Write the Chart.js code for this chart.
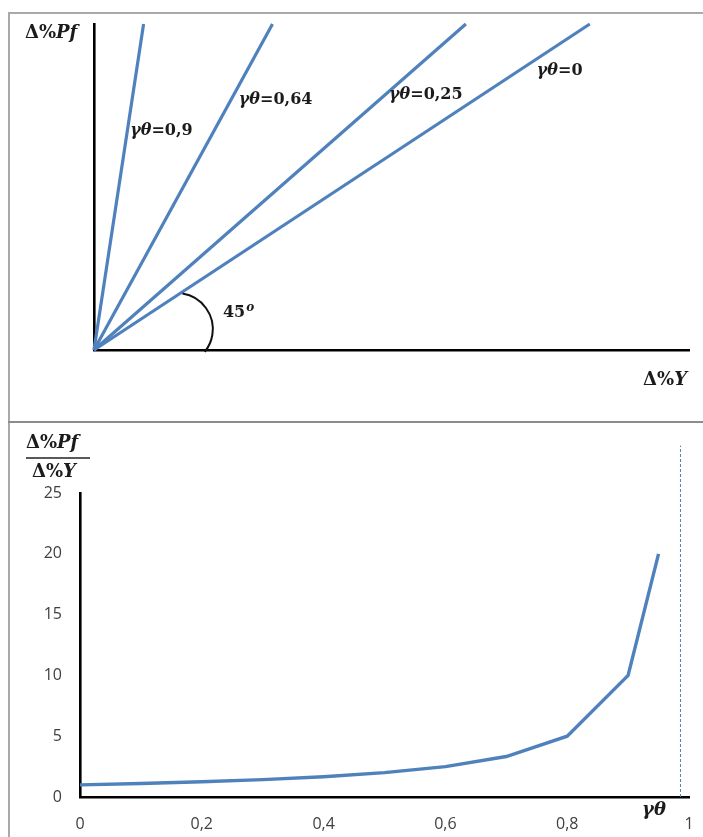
<!DOCTYPE html>
<html>
<head>
<meta charset="utf-8">
<script src="https://cdn.jsdelivr.net/npm/chart.js@4/dist/chart.umd.min.js"></script>
<style>
  html, body { margin: 0; padding: 0; background: #fff; }
  body { width: 703px; height: 837px; position: relative; overflow: hidden; }
  .panel { position: absolute; left: 0; width: 703px; }
  #top { top: 0; height: 422px; }
  #bottom { top: 422px; height: 415px; }
  .rule { position: absolute; background: #a9a9a9; }
</style>
</head>
<body>
<div class="panel" id="top"><canvas id="rays" width="703" height="422"></canvas></div>
<div class="panel" id="bottom"><canvas id="curve" width="703" height="415"></canvas></div>
<div class="rule" style="left:8px; top:12px; width:695px; height:2px;"></div>
<div class="rule" style="left:8px; top:12px; width:2px; height:825px;"></div>
<div class="rule" style="left:8px; top:421px; width:695px; height:2px; background:#8c8c8c;"></div>

<script>
// ---- Upper panel: rays Δ%Pf = Δ%Y / (1 - γθ) ----
const gammaTheta = [0, 0.25, 0.64, 0.9];
// Δ%Y reached by each ray when Δ%Pf hits the top of the axis (10)
const rayEndY = [10, 7.5, 3.6, 1.0];
const rayTopPf = 10;

// ---- Lower panel: multiplier against γθ ----
const gtValues = [0, 0.1, 0.2, 0.3, 0.4, 0.5, 0.6, 0.7, 0.8, 0.9, 0.95];
const multiplier = [1, 1.11, 1.25, 1.43, 1.67, 2, 2.5, 3.33, 5, 10, 20];
const yTickValues = [0, 5, 10, 15, 20, 25];
const xTickValues = [0, 0.2, 0.4, 0.6, 0.8, 1];
const asymptoteX = 0.986;

const BLUE = '#4f81bd';
const INK = '#1b1b1b';
const MATH = '"DejaVu Serif", "Liberation Serif", serif';

// decimal comma, keeping up to two decimals
const comma = v => String(Math.round(v * 100) / 100).replace('.', ',');

// draw a row of text pieces, each either upright or italic
function drawRuns(ctx, runs, x, y, size, align) {
  ctx.save();
  ctx.textBaseline = 'middle';
  ctx.textAlign = 'left';
  ctx.fillStyle = INK;
  const fonts = runs.map(r => (r[1] ? 'italic ' : '') + 'bold ' + size + 'px ' + MATH);
  const widths = runs.map((r, i) => { ctx.font = fonts[i]; return ctx.measureText(r[0]).width; });
  const total = widths.reduce((a, b) => a + b, 0);
  let cx = align === 'right' ? x - total : align === 'center' ? x - total / 2 : x;
  runs.forEach((r, i) => { ctx.font = fonts[i]; ctx.fillText(r[0], cx, y); cx += widths[i]; });
  ctx.restore();
  return total;
}

// label anchors (left edge, vertical middle) in data units of the upper panel
const rayLabelAt = [[8.93, 8.56], [5.95, 7.82], [2.92, 7.67], [0.73, 6.72]];

const rayDecor = {
  id: 'rayDecor',
  afterDatasetsDraw(chart) {
    const { ctx, scales: { x, y } } = chart;
    // axis titles
    drawRuns(ctx, [['Δ%', false], ['Pf', true]], 25, 33, 18, 'left');
    drawRuns(ctx, [['Δ%', false], ['Y', true]], 687, 380, 18, 'right');
    // ray labels
    gammaTheta.forEach((g, i) => {
      const [lx, ly] = rayLabelAt[i];
      drawRuns(ctx, [['γθ', true], ['=' + comma(g), false]],
        x.getPixelForValue(lx), y.getPixelForValue(ly), 16, 'left');
    });
    // angle arc and its label
    ctx.save();
    ctx.strokeStyle = '#111';
    ctx.lineWidth = 2;
    ctx.beginPath();
    ctx.arc(x.getPixelForValue(1.67), y.getPixelForValue(0.64), 36,
      -81 * Math.PI / 180, 39 * Math.PI / 180);
    ctx.stroke();
    ctx.restore();
    const lx = x.getPixelForValue(2.6), ly = y.getPixelForValue(1.17);
    const w = drawRuns(ctx, [['45', false]], lx, ly + 1, 16, 'left');
    drawRuns(ctx, [['o', true]], lx + w + 1, ly - 4, 12, 'left');
  }
};

new Chart(document.getElementById('rays'), {
  type: 'line',
  data: {
    datasets: gammaTheta.map((g, i) => ({
      label: 'γθ=' + comma(g),
      data: [{ x: 0, y: 0 }, { x: rayEndY[i], y: rayTopPf }],
      borderColor: BLUE,
      borderWidth: 3.2,
      pointRadius: 0,
      tension: 0,
      clip: false
    }))
  },
  options: {
    responsive: false,
    animation: false,
    events: [],
    layout: { padding: { left: 94, top: 24, right: 14, bottom: 72 } },
    plugins: { legend: { display: false }, tooltip: { enabled: false } },
    scales: {
      x: {
        type: 'linear', min: 0, max: 12,
        grid: { display: false, drawTicks: false },
        ticks: { display: false },
        border: { color: '#000', width: 2.6 },
        afterFit: s => { s.height = 0; }
      },
      y: {
        type: 'linear', min: 0, max: 10,
        grid: { display: false, drawTicks: false },
        ticks: { display: false },
        border: { color: '#000', width: 2.6 },
        afterFit: s => { s.width = 0; }
      }
    }
  },
  plugins: [rayDecor]
});

const curveDecor = {
  id: 'curveDecor',
  afterDatasetsDraw(chart) {
    const { ctx } = chart;
    // fraction title of the y axis
    drawRuns(ctx, [['Δ%', false], ['Pf', true]], 26, 21, 18, 'left');
    ctx.save();
    ctx.strokeStyle = '#222';
    ctx.lineWidth = 1.3;
    ctx.beginPath();
    ctx.moveTo(26, 36);
    ctx.lineTo(90, 36);
    ctx.stroke();
    ctx.restore();
    drawRuns(ctx, [['Δ%', false], ['Y', true]], 32, 50, 18, 'left');
    // x axis title
    drawRuns(ctx, [['γθ', true]], 642, 388, 18, 'left');
  }
};

new Chart(document.getElementById('curve'), {
  type: 'line',
  data: {
    datasets: [
      {
        label: 'multiplier',
        data: gtValues.map((g, i) => ({ x: g, y: multiplier[i] })),
        borderColor: BLUE,
        borderWidth: 3.4,
        pointRadius: 0,
        tension: 0,
        clip: false
      },
      {
        label: 'γθ = 1',
        data: [{ x: asymptoteX, y: 0 }, { x: asymptoteX, y: 28.9 }],
        borderColor: BLUE,
        borderWidth: 1,
        borderDash: [3, 2],
        pointRadius: 0,
        clip: false
      }
    ]
  },
  options: {
    responsive: false,
    animation: false,
    events: [],
    layout: { padding: { left: 0, top: 71, right: 14, bottom: 0 } },
    plugins: { legend: { display: false }, tooltip: { enabled: false } },
    scales: {
      x: {
        type: 'linear', min: 0, max: 1,
        afterBuildTicks: s => { s.ticks = xTickValues.map(v => ({ value: v })); },
        grid: { display: false, drawTicks: false },
        ticks: {
          padding: 18, color: '#404040', maxRotation: 0,
          font: { family: '"Open Sans", sans-serif', size: 16 },
          callback: v => comma(v)
        },
        border: { color: '#000', width: 2.6 },
        afterFit: s => { s.height = 40; s.paddingLeft = 0; s.paddingRight = 0; }
      },
      y: {
        type: 'linear', min: 0, max: 25,
        afterBuildTicks: s => { s.ticks = yTickValues.map(v => ({ value: v })); },
        grid: { display: false, drawTicks: false },
        ticks: {
          padding: 18, color: '#404040',
          font: { family: '"Open Sans", sans-serif', size: 16 }
        },
        border: { color: '#000', width: 2.6 },
        afterFit: s => { s.width = 80; s.paddingTop = 0; s.paddingBottom = 0; }
      }
    }
  },
  plugins: [curveDecor]
});
</script>
</body>
</html>
